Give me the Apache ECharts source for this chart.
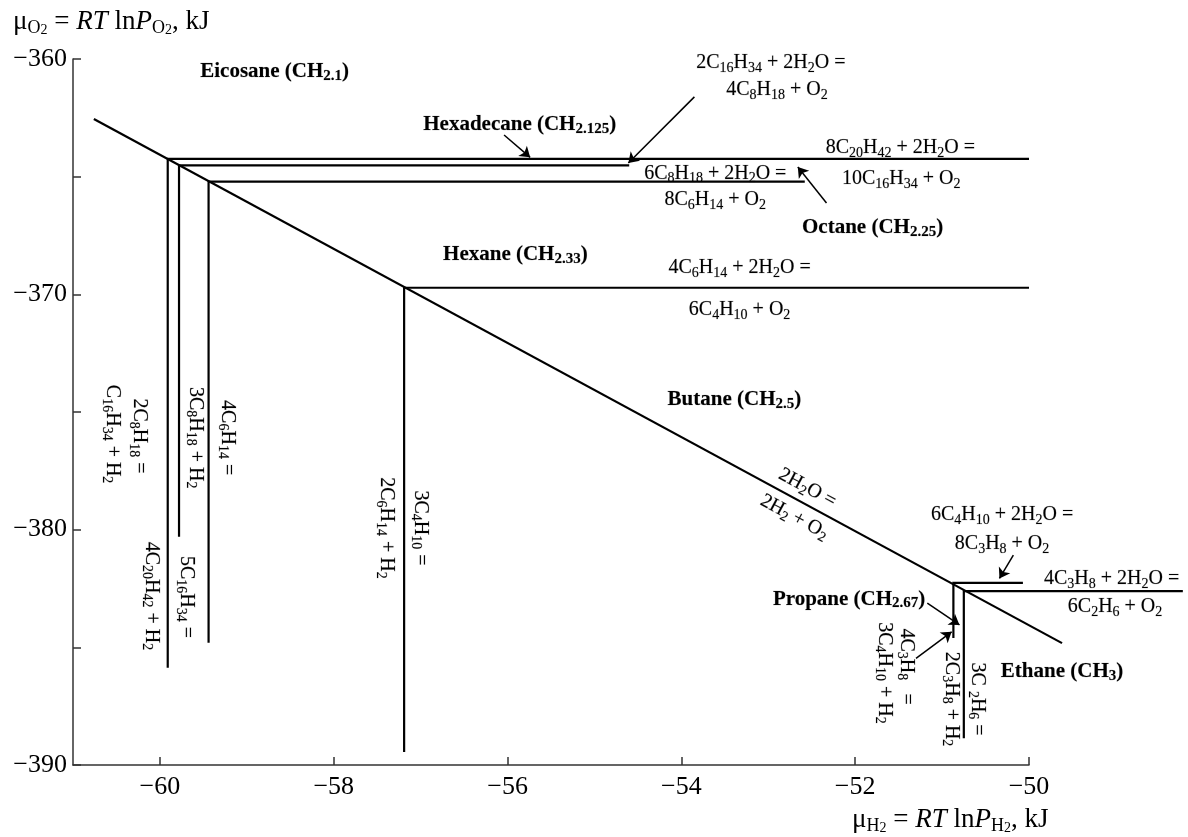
<!DOCTYPE html>
<html>
<head>
<meta charset="utf-8">
<style>
  html, body { margin: 0; padding: 0; background: #fff; }
  #chart { width: 1188px; height: 837px; }
</style>
<script src="https://cdn.jsdelivr.net/npm/echarts@6/dist/echarts.min.js"></script>
</head>
<body>
<div id="chart"></div>
<script>
// axis ticks
const xTicks = [-60, -58, -56, -54, -52, -50]
const yTicks = [-390, -385, -380, -375, -370, -365, -360]
const yLabels = [-390, -380, -370, -360]

// phase boundaries, points are [muH2, muO2]
const waterLine = [[-60.76, -362.55], [-49.62, -384.82]]
const eicosaneHexadecane = [[-59.91, -385.87], [-59.91, -364.24], [-50.0, -364.24]]
const hexadecaneOctane = [[-59.78, -380.30], [-59.78, -364.52], [-54.60, -364.52]]
const octaneHexane = [[-59.44, -384.81], [-59.44, -365.21], [-52.58, -365.21]]
const hexaneButane = [[-57.19, -389.45], [-57.19, -369.72], [-50.0, -369.72]]
const butanePropane = [[-50.87, -384.60], [-50.87, -382.26], [-50.07, -382.26]]
const propaneEthane = [[-50.75, -388.86], [-50.75, -382.61], [-48.23, -382.61]]

// phase names
const phaseNames = [
  { text: 'Eicosane (CH{b|2.1})', x: -58.68, y: -360.54 },
  { text: 'Hexadecane (CH{b|2.125})', x: -55.86, y: -362.80 },
  { text: 'Octane (CH{b|2.25})', x: -51.80, y: -367.18 },
  { text: 'Hexane (CH{b|2.33})', x: -55.91, y: -368.33 },
  { text: 'Butane (CH{b|2.5})', x: -53.39, y: -374.49 },
  { text: 'Propane (CH{b|2.67})', x: -52.07, y: -382.95 },
  { text: 'Ethane (CH{b|3})', x: -49.62, y: -386.05 }
]

// reaction texts (one entry per text line)
const reactionTexts = [
  { text: '2C{s|16}H{s|34} + 2H{s|2}O =', x: -52.97, y: -360.18, rotate: 0 },
  { text: '4C{s|8}H{s|18} + O{s|2}', x: -52.90, y: -361.32, rotate: 0 },
  { text: '8C{s|20}H{s|42} + 2H{s|2}O =', x: -51.48, y: -363.78, rotate: 0 },
  { text: '10C{s|16}H{s|34} + O{s|2}', x: -51.47, y: -365.10, rotate: 0 },
  { text: '6C{s|8}H{s|18} + 2H{s|2}O =', x: -53.61, y: -364.86, rotate: 0 },
  { text: '8C{s|6}H{s|14} + O{s|2}', x: -53.61, y: -365.99, rotate: 0 },
  { text: '4C{s|6}H{s|14} + 2H{s|2}O =', x: -53.33, y: -368.88, rotate: 0 },
  { text: '6C{s|4}H{s|10} + O{s|2}', x: -53.33, y: -370.67, rotate: 0 },
  { text: '2H{s|2}O =', x: -52.55, y: -378.23, rotate: -28.4 },
  { text: '2H{s|2} + O{s|2}', x: -52.70, y: -379.46, rotate: -28.4 },
  { text: '6C{s|4}H{s|10} + 2H{s|2}O =', x: -50.31, y: -379.38, rotate: 0 },
  { text: '8C{s|3}H{s|8} + O{s|2}', x: -50.31, y: -380.61, rotate: 0 },
  { text: '4C{s|3}H{s|8} + 2H{s|2}O =', x: -49.05, y: -382.10, rotate: 0 },
  { text: '6C{s|2}H{s|6} + O{s|2}', x: -49.01, y: -383.29, rotate: 0 },
  { text: '2C{s|8}H{s|18} =', x: -60.24, y: -376.02, rotate: -90 },
  { text: 'C{s|16}H{s|34} + H{s|2}', x: -60.55, y: -375.94, rotate: -90 },
  { text: '4C{s|20}H{s|42} + H{s|2}', x: -60.10, y: -382.82, rotate: -90 },
  { text: '5C{s|16}H{s|34} =', x: -59.70, y: -382.86, rotate: -90 },
  { text: '3C{s|8}H{s|18} + H{s|2}', x: -59.59, y: -376.09, rotate: -90 },
  { text: '4C{s|6}H{s|14} =', x: -59.22, y: -376.09, rotate: -90 },
  { text: '2C{s|6}H{s|14} + H{s|2}', x: -57.40, y: -379.93, rotate: -90 },
  { text: '3C{s|4}H{s|10} =', x: -57.00, y: -379.93, rotate: -90 },
  { text: '4C{s|3}H{s|8}', x: -51.41, y: -385.30, rotate: -90 },
  { text: '=', x: -51.41, y: -387.20, rotate: -90 },
  { text: '3C{s|4}H{s|10} + H{s|2}', x: -51.66, y: -386.09, rotate: -90 },
  { text: '2C{s|3}H{s|8} + H{s|2}', x: -50.89, y: -387.20, rotate: -90 },
  { text: '3C {s|2}H{s|6} =', x: -50.59, y: -387.20, rotate: -90 }
]

// pointer arrows [from, to]
const arrows = [
  [[-56.04, -363.23], [-55.74, -364.18]],
  [[-53.85, -361.61], [-54.61, -364.42]],
  [[-52.33, -366.12], [-52.66, -364.59]],
  [[-50.18, -381.08], [-50.34, -382.07]],
  [[-51.17, -383.12], [-50.80, -384.05]],
  [[-51.30, -385.47], [-50.89, -384.34]]
]

const serif = "'Liberation Serif', 'DejaVu Serif', serif"
const ink = '#000'
const minus = v => String(v).replace('-', '\u2212')

const rich = {
  s: { fontFamily: serif, fontSize: 14, lineHeight: 12, verticalAlign: 'bottom', color: ink },
  b: { fontFamily: serif, fontSize: 15, fontWeight: 'bold', lineHeight: 12, verticalAlign: 'bottom', color: ink }
}

const titleRich = {
  i: { fontFamily: serif, fontSize: 27, fontStyle: 'italic', lineHeight: 30, color: ink },
  o: { fontFamily: serif, fontSize: 18, lineHeight: 14, verticalAlign: 'bottom', color: ink },
  t: { fontFamily: serif, fontSize: 14, lineHeight: 8, verticalAlign: 'bottom', color: ink }
}

const chart = echarts.init(document.getElementById('chart'))

const boundaries = [waterLine, eicosaneHexadecane, hexadecaneOctane, octaneHexane,
  hexaneButane, butanePropane, propaneEthane]

const labelBase = {
  show: true, position: 'inside', align: 'center', verticalAlign: 'middle',
  fontFamily: serif, lineHeight: 24, color: ink, opacity: 1,
  textBorderColor: 'rgba(0,0,0,0.25)', textBorderWidth: 0.6,
  formatter: p => p.name, rich: rich
}

const option = {
  animation: false,
  backgroundColor: '#fff',
  grid: { left: 73, right: 159, top: 59, bottom: 72, outerBoundsMode: 'none' },
  xAxis: {
    type: 'value',
    min: -61,
    max: -50,
    axisLine: { onZero: false, lineStyle: { color: '#333', width: 1.5 } },
    axisTick: { inside: true, length: 8, customValues: xTicks, lineStyle: { color: '#333', width: 1.5 } },
    axisLabel: {
      customValues: xTicks, margin: 9, color: ink, fontFamily: serif, fontSize: 26,
      formatter: minus
    },
    splitLine: { show: false }
  },
  yAxis: {
    type: 'value',
    min: -390,
    max: -360,
    axisLine: { onZero: false, lineStyle: { color: '#333', width: 1.5 } },
    axisTick: { inside: true, length: 8, customValues: yTicks, lineStyle: { color: '#333', width: 1.5 } },
    axisLabel: {
      customValues: yLabels, margin: 6, color: ink, fontFamily: serif, fontSize: 26,
      formatter: minus
    },
    splitLine: { show: false }
  },
  graphic: [
    {
      type: 'text', left: 13, top: 7, silent: true,
      style: {
        text: 'μ{o|O}{t|2} = {i|RT} ln{i|P}{o|O}{t|2}, kJ',
        fontFamily: serif, fontSize: 27, lineHeight: 30, fill: ink, rich: titleRich
      }
    },
    {
      type: 'text', left: 852, top: 805, silent: true,
      style: {
        text: 'μ{o|H}{t|2} = {i|RT} ln{i|P}{o|H}{t|2}, kJ',
        fontFamily: serif, fontSize: 27, lineHeight: 30, fill: ink, rich: titleRich
      }
    }
  ],
  series: [
    {
      type: 'lines',
      coordinateSystem: 'cartesian2d',
      polyline: true,
      clip: false,
      silent: true,
      lineStyle: { color: ink, width: 2.2, opacity: 1 },
      data: boundaries.map(c => ({ coords: c }))
    },
    {
      type: 'lines',
      coordinateSystem: 'cartesian2d',
      clip: false,
      silent: true,
      symbol: ['none', 'arrow'],
      symbolSize: 10,
      lineStyle: { color: ink, width: 1.5, opacity: 1 },
      itemStyle: { color: ink },
      data: arrows.map(a => ({ coords: a }))
    },
    {
      type: 'scatter',
      clip: false,
      silent: true,
      symbolSize: 0,
      itemStyle: { opacity: 1 },
      label: Object.assign({}, labelBase, { fontSize: 21, fontWeight: 'bold' }),
      data: phaseNames.map(d => ({ name: d.text, value: [d.x, d.y] }))
    },
    {
      type: 'scatter',
      clip: false,
      silent: true,
      symbolSize: 0,
      itemStyle: { opacity: 1 },
      label: Object.assign({}, labelBase, { fontSize: 20 }),
      data: reactionTexts.map(d => ({
        name: d.text, value: [d.x, d.y], label: { rotate: d.rotate }
      }))
    }
  ]
}

chart.setOption(option)
</script>
</body>
</html>
